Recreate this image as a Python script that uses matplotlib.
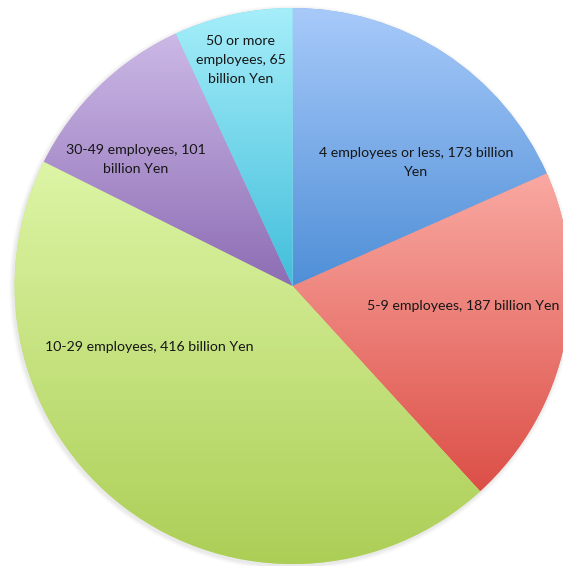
import matplotlib
matplotlib.use("Agg")
import matplotlib.pyplot as plt
import numpy as np
from matplotlib.colors import to_rgb
from matplotlib.patches import Circle

# sales by company size (billion Yen), clockwise from 12 o'clock
categories = [
    "4 employees or less",
    "5-9 employees",
    "10-29 employees",
    "30-49 employees",
    "50 or more employees",
]
values = [173, 187, 416, 101, 65]
label_texts = [
    "4 employees or less, 173 billion\nYen",
    "5-9 employees, 187 billion Yen",
    "10-29 employees, 416 billion Yen",
    "30-49 employees, 101\nbillion Yen",
    "50 or more\nemployees, 65\nbillion Yen",
]

# gradient top/bottom colours per slice
top_colors = ["#a8cafa", "#f9a9a2", "#ddf5a6", "#ccb9e7", "#a6eefa"]
bottom_colors = ["#4f8fd7", "#dc4f47", "#acce56", "#8d6db4", "#42bedb"]

# label anchors in pie-radius units
label_xy = [(0.444, 0.444), (0.613, -0.072), (-0.517, -0.218),
            (-0.563, 0.455), (-0.186, 0.813)]

W, H = 563, 566
fig = plt.figure(figsize=(W / 100, H / 100), dpi=100)
ax = fig.add_axes([0, 0, 1, 1])

# soft drop shadow under the pie
for k, a in enumerate([0.05, 0.05, 0.04, 0.03]):
    ax.add_patch(Circle((-0.004, -0.006), 1.0 + 0.004 * (k + 1),
                        facecolor="#888888", edgecolor="none", alpha=a, zorder=0))

wedges, _ = ax.pie(values, startangle=90, counterclock=False, radius=1.0,
                   center=(0, 0), frame=True,
                   wedgeprops=dict(linewidth=0, edgecolor="none"))
ax.set_xlim(-1.0525, 0.9727)
ax.set_ylim(-1.007, 1.0288)
ax.set_aspect("equal")
ax.axis("off")

grad = np.linspace(0, 1, 256)
for w, c0, c1 in zip(wedges, top_colors, bottom_colors):
    verts = w.get_patch_transform().transform(w.get_path().vertices)
    x0, y0 = verts.min(axis=0)
    x1, y1 = verts.max(axis=0)
    t, b = np.array(to_rgb(c0)), np.array(to_rgb(c1))
    img = (b[None, :] + (t - b)[None, :] * grad[:, None])[:, None, :]
    w.set_facecolor(tuple((t + b) / 2))
    w.set_zorder(1)
    im = ax.imshow(img, extent=[x0, x1, y0, y1], origin="lower",
                   aspect="auto", interpolation="bilinear", zorder=2)
    im.set_clip_path(w)

for (x, y), s in zip(label_xy, label_texts):
    ax.text(x, y, s, ha="center", va="center", fontsize=10.2,
            family=["Lato", "DejaVu Sans"], color="#161616",
            linespacing=1.7, zorder=5)

fig.savefig("out.png", dpi=100, facecolor="white")
